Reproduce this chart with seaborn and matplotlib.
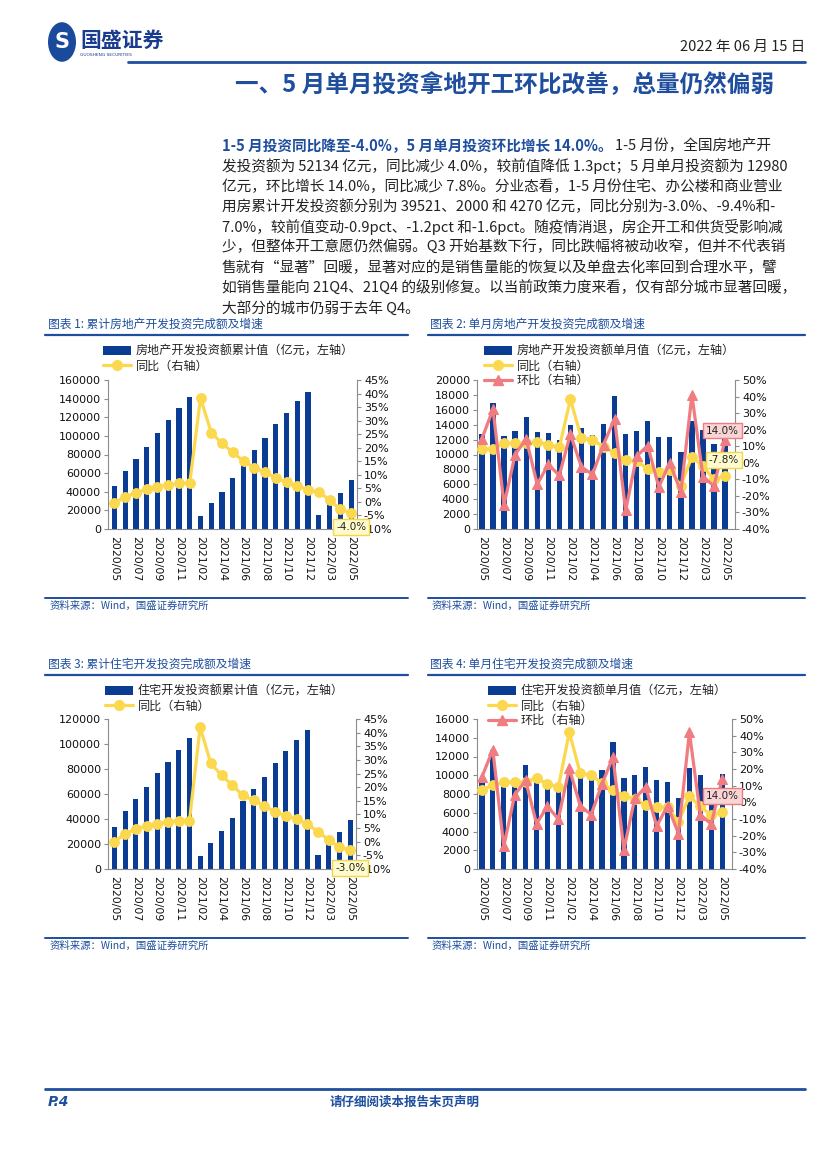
import numpy as np
import pandas as pd
import matplotlib
matplotlib.use("Agg")
import matplotlib.pyplot as plt
import seaborn as sns
from matplotlib.lines import Line2D
from matplotlib.patches import Patch, Circle

# ---------------- data ----------------
months = ['2020/05', '2020/06', '2020/07', '2020/08', '2020/09', '2020/10', '2020/11', '2020/12',
          '2021/02', '2021/03', '2021/04', '2021/05', '2021/06', '2021/07', '2021/08', '2021/09',
          '2021/10', '2021/11', '2021/12', '2022/02', '2022/03', '2022/04', '2022/05']
tick_labels = months[::2]

# chart 1: cumulative real-estate investment (100m yuan) and yoy (%)
cum_inv = [45920, 62780, 75325, 88454, 103484, 116556, 129492, 141443,
           13986, 27576, 40240, 54318, 71179, 84895, 98061, 112568, 124934, 137111, 147602,
           14499, 27765, 39154, 52134]
cum_yoy = [-0.3, 1.9, 3.4, 4.6, 5.6, 6.3, 6.8, 7.0,
           38.3, 25.6, 21.6, 18.3, 15.0, 12.7, 10.9, 8.8, 7.2, 6.0, 4.4,
           3.7, 0.7, -2.7, -4.0]

# chart 2: monthly real-estate investment, yoy, mom
mon_inv = [12800, 16860, 12545, 13129, 15030, 13072, 12936, 11951,
           13986, 13590, 12664, 14078, 17861, 12716, 13166, 14507, 12366, 12400, 10300,
           14499, 13266, 11389, 12980]
mon_yoy = [8.1, 8.5, 11.7, 11.8, 12.0, 12.7, 10.9, 9.3,
           38.3, 14.9, 13.7, 9.8, 6.0, 1.7, 0.8, -3.5, -5.4, -4.3, -13.9,
           3.7, -2.0, -10.1, -7.8]
mon_mom = [14.6, 32.4, -25.4, 5.0, 14.4, -13.0, -1.0, -7.6,
           17.4, -2.6, -7.0, 11.0, 26.6, -28.8, 4.0, 10.4, -14.6, 0.0, -17.6,
           41.0, -8.4, -14.0, 14.0]

# chart 3: cumulative residential investment and yoy
res_cum = [33477, 46350, 55606, 65454, 76522, 85936, 95482, 104446,
           10359, 20624, 30218, 40822, 54244, 63791, 73770, 84523, 94126, 103265, 111173,
           11003, 20761, 29384, 39521]
res_cum_yoy = [0.0, 3.0, 4.6, 5.8, 6.6, 7.3, 7.7, 7.6,
               42.0, 28.7, 24.4, 20.7, 17.0, 15.2, 13.1, 11.0, 9.5, 8.3, 6.5,
               3.7, 0.7, -2.1, -3.0]

# chart 4: monthly residential investment, yoy, mom
res_mon = [9700, 12700, 9100, 9700, 11100, 9500, 9500, 8800,
           10400, 10200, 9500, 10600, 13500, 9700, 10000, 10900, 9450, 9300, 7600,
           10800, 10000, 8600, 10100]
res_mon_yoy = [7.6, 10.2, 12.4, 12.0, 12.4, 14.4, 11.2, 9.2,
               42.0, 17.6, 16.2, 11.6, 7.2, 4.0, 2.0, -1.6, -3.0, -2.8, -11.8,
               3.6, -2.4, -7.8, -5.8]
res_mon_mom = [15.2, 31.6, -26.4, 4.4, 13.2, -12.8, -2.4, -10.0,
               20.4, -2.0, -7.4, 11.0, 27.2, -28.4, 2.4, 9.2, -14.4, -2.0, -18.8,
               42.0, -7.4, -13.0, 14.0]

# ---------------- style ----------------
W, H = 827, 1169
BLUE_TXT = "#1E4E9D"
BAR = "#0B3C93"
YEL = "#FBD84E"
RED = "#F07C82"
GREY = "#8C8C8C"

sns.set_theme(style="white")
plt.rcParams['font.family'] = ['Noto Sans CJK SC', 'DejaVu Sans']
plt.rcParams['axes.unicode_minus'] = False

fig = plt.figure(figsize=(W / 100, H / 100), dpi=100)
fig.patch.set_facecolor("white")


def fx(px):
    return px / W


def fy(py):
    return 1 - py / H


def rect(l, t, r, b):
    return [l / W, 1 - b / H, (r - l) / W, (b - t) / H]


def hline(x0, x1, y, lw=1.6, color=BLUE_TXT):
    fig.add_artist(Line2D([fx(x0), fx(x1)], [fy(y), fy(y)], color=color, lw=lw,
                          transform=fig.transFigure))


# ---------------- header ----------------
fig.add_artist(Circle((fx(62), fy(42)), 14 / W, transform=fig.transFigure,
                      facecolor="#1A4A9C", edgecolor="none"))
fig.text(fx(62), fy(42), "S", color="white", fontsize=15, fontweight="bold",
         ha="center", va="center", family="DejaVu Sans")
fig.text(fx(80), fy(40), "国盛证券", color="#1A3C8E", fontsize=15, fontweight="bold",
         ha="left", va="center")
fig.text(fx(80), fy(55), "GUOSHENG SECURITIES", color="#1A3C8E", fontsize=3.2,
         ha="left", va="center", family="DejaVu Sans")
fig.text(fx(805), fy(47), "2022 年 06 月 15 日", color="#222222", fontsize=10.5,
         ha="right", va="center")
hline(128, 805, 62, lw=2.0)
fig.text(fx(505), fy(85), "一、5 月单月投资拿地开工环比改善，总量仍然偏弱", color=BLUE_TXT,
         fontsize=17, fontweight="bold", ha="center", va="center")

# ---------------- paragraph ----------------
para_x = 222
FS = 10.55
line_y = [146 + 20.3 * i for i in range(9)]
bold_part = "1-5 月投资同比降至-4.0%，5 月单月投资环比增长 14.0%。"
t0 = fig.text(fx(para_x), fy(line_y[0]), bold_part, color=BLUE_TXT, fontsize=FS,
              fontweight="bold", ha="left", va="center")
renderer = fig.canvas.get_renderer()
bb = t0.get_window_extent(renderer=renderer)
fig.text(bb.x1 / W + 2 / W, fy(line_y[0]), "1-5 月份，全国房地产开", color="#222222",
         fontsize=FS, ha="left", va="center")
para_lines = [
    "发投资额为 52134 亿元，同比减少 4.0%，较前值降低 1.3pct；5 月单月投资额为 12980",
    "亿元，环比增长 14.0%，同比减少 7.8%。分业态看，1-5 月份住宅、办公楼和商业营业",
    "用房累计开发投资额分别为 39521、2000 和 4270 亿元，同比分别为-3.0%、-9.4%和-",
    "7.0%，较前值变动-0.9pct、-1.2pct 和-1.6pct。随疫情消退，房企开工和供货受影响减",
    "少，但整体开工意愿仍然偏弱。Q3 开始基数下行，同比跌幅将被动收窄，但并不代表销",
    "售就有“显著”回暖，显著对应的是销售量能的恢复以及单盘去化率回到合理水平，譬",
    "如销售量能向 21Q4、21Q4 的级别修复。以当前政策力度来看，仅有部分城市显著回暖，",
    "大部分的城市仍弱于去年 Q4。",
]
for i, s in enumerate(para_lines):
    fig.text(fx(para_x), fy(line_y[i + 1]), s, color="#222222", fontsize=FS,
             ha="left", va="center")


# ---------------- charts ----------------
def chart(box, xlim, bars, bar_label, ymax_l, step_l, lines, rlim, rstep,
          title, title_xy, tline, legend_xy, src_y, annots):
    l, t, r, b = box
    ax = fig.add_axes(rect(l, t, r, b))
    df = pd.DataFrame({"month": months, "value": bars})
    sns.barplot(data=df, x="month", y="value", color=BAR, width=0.48, ax=ax,
                saturation=1, edgecolor="none")
    if ax.get_legend() is not None:
        ax.get_legend().remove()
    ax.set_xlim(*xlim)
    ax.set_ylim(0, ymax_l)
    ax.set_yticks(np.arange(0, ymax_l + 1, step_l))
    ax.set_yticklabels([f"{int(v)}" for v in np.arange(0, ymax_l + 1, step_l)])
    ax.set_xticks(range(0, len(months), 2))
    ax.set_xticklabels(tick_labels, rotation=-90, va="top", ha="center")
    ax.set_xlabel("")
    ax.set_ylabel("")
    ax.tick_params(axis="y", labelsize=8, labelfontfamily="DejaVu Sans", length=3,
                   width=0.8, color=GREY, left=True, pad=2, labelcolor="#111111")
    ax.tick_params(axis="x", labelsize=7.8, labelfontfamily="DejaVu Sans", length=0,
                   pad=5, labelcolor="#111111")
    for s in ["top", "right"]:
        ax.spines[s].set_visible(False)
    for s in ["left", "bottom"]:
        ax.spines[s].set_color(GREY)
        ax.spines[s].set_linewidth(0.8)
    ax.grid(False)

    ax2 = ax.twinx()
    pos = np.arange(len(months))
    handles = [Patch(facecolor=BAR, edgecolor="none", label=bar_label)]
    for vals, col, mk, lab in lines:
        sns.lineplot(x=pos, y=vals, ax=ax2, color=col, lw=2.3, marker=mk,
                     markersize=7, markeredgecolor=col, markerfacecolor=col,
                     legend=False)
        handles.append(Line2D([0], [0], color=col, lw=2.3, marker=mk, markersize=7,
                              markeredgecolor=col, label=lab))
    ax2.set_xlim(*xlim)
    ax2.set_ylim(*rlim)
    rt = np.arange(rlim[0], rlim[1] + 0.1, rstep)
    ax2.set_yticks(rt)
    ax2.set_yticklabels([f"{int(v)}%" for v in rt])
    ax2.set_xlabel("")
    ax2.set_ylabel("")
    ax2.tick_params(axis="y", labelsize=8, labelfontfamily="DejaVu Sans", length=3,
                    width=0.8, color=GREY, right=True, pad=2, labelcolor="#111111")
    for s in ["top", "left", "bottom"]:
        ax2.spines[s].set_visible(False)
    ax2.spines["right"].set_color(GREY)
    ax2.spines["right"].set_linewidth(0.8)
    ax2.grid(False)

    leg = ax2.legend(handles=handles, loc="upper left",
                     bbox_to_anchor=(fx(legend_xy[0]), fy(legend_xy[1])),
                     bbox_transform=fig.transFigure, frameon=False, fontsize=8.7,
                     handlelength=2.3, handleheight=0.75, handletextpad=0.4,
                     labelspacing=0.12, borderpad=0, borderaxespad=0)
    for txt in leg.get_texts():
        txt.set_color("#222222")

    for (xi, yi, txt, off, fc, ec) in annots:
        ax2.annotate(txt, xy=(xi, yi), xytext=off, textcoords="offset points",
                     ha="center", va="center", fontsize=7.5, family="DejaVu Sans",
                     color="#222222",
                     bbox=dict(boxstyle="square,pad=0.28", fc=fc, ec=ec, lw=1.0),
                     zorder=10)

    # titles, rules, source
    fig.text(fx(title_xy[0]), fy(title_xy[1]), title, color=BLUE_TXT, fontsize=8.5,
             style="italic", ha="left", va="center")
    hline(tline[0], tline[1], tline[2], lw=1.6)
    hline(tline[0], tline[1], src_y, lw=1.4)
    fig.text(fx(title_xy[0] + 2), fy(src_y + 8), "资料来源：Wind，国盛证券研究所",
             color=BLUE_TXT, fontsize=7.5, style="italic", ha="left", va="center")
    return ax, ax2


last = len(months) - 1
YFC, YEC = "#FFFBCC", "#F2D64B"
RFC, REC = "#FAD4D4", "#EE7C80"

chart(box=(108, 380, 357, 529), xlim=(-0.6, 22.55), bars=cum_inv,
      bar_label="房地产开发投资额累计值（亿元，左轴）", ymax_l=160000, step_l=20000,
      lines=[(cum_yoy, YEL, "o", "同比（右轴）")], rlim=(-10, 45), rstep=5,
      title="图表 1: 累计房地产开发投资完成额及增速", title_xy=(48, 324),
      tline=(45, 408, 335), legend_xy=(103, 345), src_y=598,
      annots=[(last, cum_yoy[-1], "-4.0%", (0, -10), YFC, YEC)])

chart(box=(477, 380, 735, 529), xlim=(-0.45, 22.9), bars=mon_inv,
      bar_label="房地产开发投资额单月值（亿元，左轴）", ymax_l=20000, step_l=2000,
      lines=[(mon_yoy, YEL, "o", "同比（右轴）"), (mon_mom, RED, "^", "环比（右轴）")],
      rlim=(-40, 50), rstep=10,
      title="图表 2: 单月房地产开发投资完成额及增速", title_xy=(430, 324),
      tline=(428, 805, 335), legend_xy=(484, 345), src_y=598,
      annots=[(last, mon_mom[-1], "14.0%", (-2, 6.5), RFC, REC),
              (last, mon_yoy[-1], "-7.8%", (-1, 11), YFC, YEC)])

chart(box=(108, 719, 356, 869), xlim=(-0.6, 22.55), bars=res_cum,
      bar_label="住宅开发投资额累计值（亿元，左轴）", ymax_l=120000, step_l=20000,
      lines=[(res_cum_yoy, YEL, "o", "同比（右轴）")], rlim=(-10, 45), rstep=5,
      title="图表 3: 累计住宅开发投资完成额及增速", title_xy=(48, 664),
      tline=(45, 408, 675), legend_xy=(105, 685), src_y=938,
      annots=[(last, res_cum_yoy[-1], "-3.0%", (0, -13), YFC, YEC)])

chart(box=(477, 719, 732, 869), xlim=(-0.45, 22.9), bars=res_mon,
      bar_label="住宅开发投资额单月值（亿元，左轴）", ymax_l=16000, step_l=2000,
      lines=[(res_mon_yoy, YEL, "o", "同比（右轴）"), (res_mon_mom, RED, "^", "环比（右轴）")],
      rlim=(-40, 50), rstep=10,
      title="图表 4: 单月住宅开发投资完成额及增速", title_xy=(430, 664),
      tline=(428, 805, 675), legend_xy=(488, 685), src_y=938,
      annots=[(last, res_mon_mom[-1], "14.0%", (0, -12), RFC, REC)])

# ---------------- footer ----------------
hline(45, 805, 1089, lw=2.0)
fig.text(fx(48), fy(1102), "P.4", color=BLUE_TXT, fontsize=10, fontweight="bold",
         style="italic", ha="left", va="center", family="DejaVu Sans")
fig.text(fx(405), fy(1102), "请仔细阅读本报告末页声明", color=BLUE_TXT, fontsize=9,
         fontweight="bold", ha="center", va="center")

fig.savefig("out.png", dpi=100, facecolor="white")
